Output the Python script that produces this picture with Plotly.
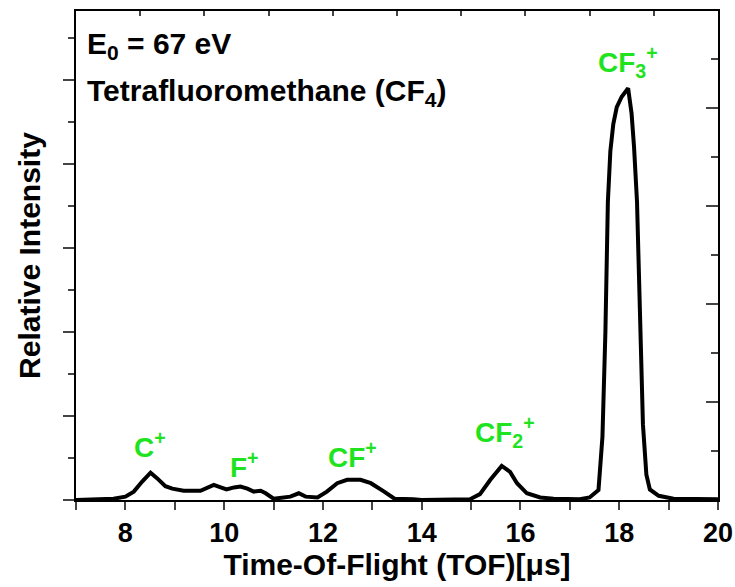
import plotly.graph_objects as go

# time-of-flight (µs) and relative intensity (arb. units)
tof = [7.0, 7.5, 7.76, 8.0, 8.17, 8.34, 8.51, 8.64, 8.81, 8.95, 9.18, 9.52, 9.66, 9.79,
       9.93, 10.05, 10.2, 10.33, 10.47, 10.6, 10.74, 10.84, 11.0, 11.14, 11.34, 11.51,
       11.65, 11.89, 12.08, 12.29, 12.49, 12.76, 12.97, 13.24, 13.45, 13.83, 14.0, 14.98,
       15.18, 15.39, 15.62, 15.79, 15.93, 16.13, 16.4, 16.67, 17.2, 17.4, 17.58, 17.66,
       17.72, 17.77, 17.82, 17.88, 17.95, 18.05, 18.18, 18.25, 18.3, 18.36, 18.42, 18.48,
       18.55, 18.62, 18.8, 19.1, 20.0]
intensity = [0.0, 0.02, 0.03, 0.08, 0.2, 0.44, 0.65, 0.52, 0.33, 0.27, 0.22, 0.22, 0.28, 0.36,
             0.3, 0.25, 0.3, 0.32, 0.27, 0.2, 0.22, 0.16, 0.03, 0.05, 0.08, 0.16,
             0.08, 0.06, 0.2, 0.4, 0.48, 0.48, 0.4, 0.2, 0.03, 0.02, 0.0, 0.02,
             0.14, 0.48, 0.81, 0.67, 0.4, 0.16, 0.06, 0.03, 0.02, 0.06, 0.24, 1.5,
             4.0, 7.1, 8.3, 8.95, 9.35, 9.6, 9.8, 9.2, 8.4, 7.1, 4.5, 1.8,
             0.6, 0.25, 0.1, 0.03, 0.02]

ion_labels = ["C<sup>+</sup>", "F<sup>+</sup>", "CF<sup>+</sup>",
              "CF<sub>2</sub><sup>+</sup>", "CF<sub>3</sub><sup>+</sup>"]
ion_x = [8.5, 10.42, 12.59, 15.68, 18.17]
ion_y = [1.31, 0.83, 1.07, 1.62, 10.43]

FONT = "Liberation Sans, Arial"
GREEN = "#1fe31f"

fig = go.Figure()
fig.add_trace(go.Scatter(x=tof, y=intensity, mode="lines",
                         line=dict(color="black", width=4), showlegend=False))
# empty trace so the top / right tick axes get drawn
fig.add_trace(go.Scatter(x=[], y=[], xaxis="x2", yaxis="y2", showlegend=False))

for txt, x, y in zip(ion_labels, ion_x, ion_y):
    fig.add_annotation(x=x, y=y, text="<b>" + txt + "</b>", showarrow=False,
                       font=dict(color=GREEN, size=28, family=FONT))

fig.add_annotation(x=7.18, y=10.83, text="<b>E<sub>0</sub> = 67 eV</b>", showarrow=False,
                   xanchor="left", font=dict(color="black", size=30, family=FONT))
fig.add_annotation(x=7.18, y=9.69, text="<b>Tetrafluoromethane (CF<sub>4</sub>)</b>",
                   showarrow=False, xanchor="left",
                   font=dict(color="black", size=30, family=FONT))

fig.update_layout(
    width=735, height=587,
    margin=dict(l=76, r=17, t=11, b=87, autoexpand=False),
    plot_bgcolor="white", paper_bgcolor="white",
    font=dict(family=FONT, size=28, color="black"),
    xaxis=dict(range=[7, 20], tick0=8, dtick=2, ticks="outside", ticklen=8, tickwidth=2,
               minor=dict(dtick=1, ticks="outside", ticklen=8, tickwidth=2),
               showline=True, linewidth=2, linecolor="black", showgrid=False, zeroline=False,
               automargin=False,
               tickfont=dict(size=27, family=FONT, weight="bold"),
               title=dict(text="<b>Time-Of-Flight (TOF)[μs]</b>", font=dict(size=30), standoff=6)),
    yaxis=dict(range=[0, 11.64], dtick=2, ticks="outside", ticklen=11, tickwidth=2,
               minor=dict(dtick=1, ticks="outside", ticklen=6, tickwidth=2),
               showline=True, linewidth=2, linecolor="black", showgrid=False, zeroline=False,
               showticklabels=False, automargin=False,
               title=dict(text="<b>Relative Intensity</b>", font=dict(size=30), standoff=14)),
    xaxis2=dict(overlaying="x", side="top", anchor="y", range=[0, 10], dtick=1,
                ticks="inside", ticklen=5, tickwidth=2, showticklabels=False,
                showline=True, linewidth=2, linecolor="black", showgrid=False, zeroline=False),
    yaxis2=dict(overlaying="y", side="right", anchor="x", range=[0, 9.98], dtick=2, tick0=0,
                ticks="inside", ticklen=12, tickwidth=2,
                minor=dict(dtick=1, ticks="inside", ticklen=7, tickwidth=2),
                showticklabels=False, showline=True, linewidth=2, linecolor="black",
                showgrid=False, zeroline=False),
)

# drop the page's default body margin so the figure sits at the window origin
fig.write_html("out.html", config={"displayModeBar": False},
               post_script="document.body.style.margin='0';document.body.style.overflow='hidden';")
